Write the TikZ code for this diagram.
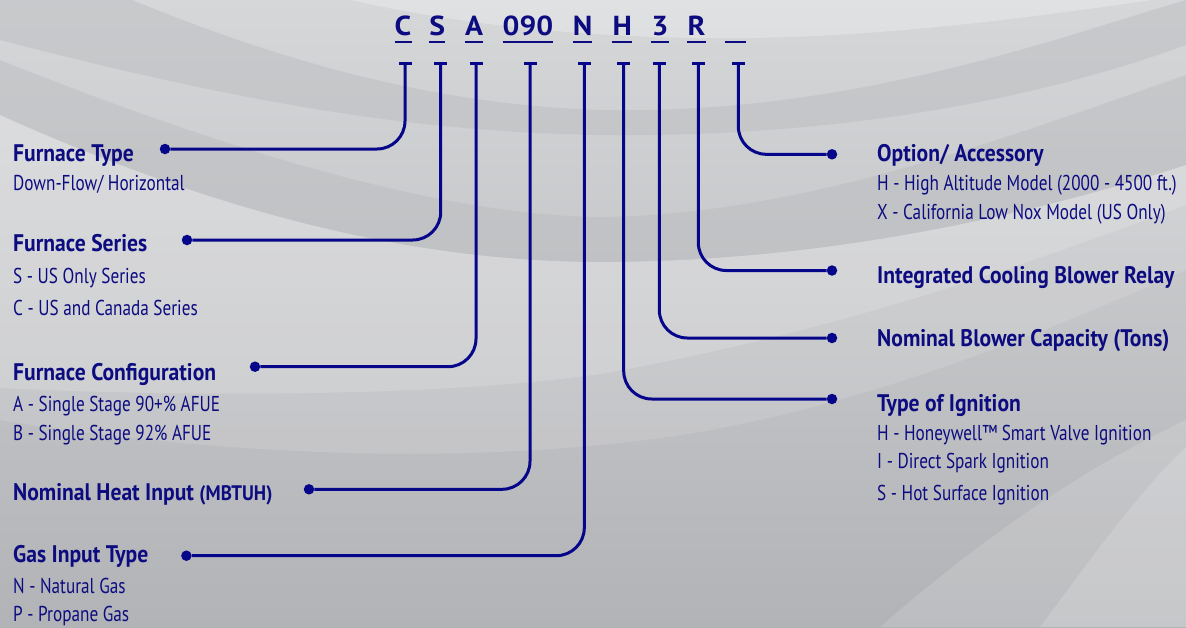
\documentclass[tikz,border=0pt]{standalone}
\usepackage{fontspec}
\setmainfont{PT Sans}[FakeStretch=0.8]
\newfontfamily\titlefont{PT Sans}[FakeStretch=0.9]
\newfontfamily\codefont{PT Sans}[FakeStretch=1.08]
\definecolor{ink}{RGB}{12,12,128}
\definecolor{wirec}{RGB}{6,6,138}
\definecolor{bgA}{RGB}{214,215,217}
\definecolor{bgB}{RGB}{178,179,182}
\definecolor{bandD}{RGB}{185,186,189}
\begin{document}
\begin{tikzpicture}[x=1pt,y=-1pt,
  lbl/.style={anchor=base west, inner sep=0pt, text=ink, font=\fontsize{21.5}{26}\selectfont},
  ttl/.style={anchor=base west, inner sep=0pt, text=ink, font=\titlefont\fontsize{24}{26}\selectfont\bfseries},
  codech/.style={anchor=base, inner sep=0pt, text=ink, font=\codefont\fontsize{27.5}{30}\selectfont\bfseries},
  wire/.style={draw=wirec, line width=3pt, rounded corners=28pt},
  dotn/.style={circle, fill=wirec, inner sep=0pt, minimum size=10.5pt},
  tbar/.style={draw=wirec, line width=3pt},
  uline/.style={draw=ink, line width=2.2pt},
  darkband/.style={fill=bandD, opacity=0.45},
  lightband/.style={fill=white, opacity=0.25}]
\useasboundingbox (0,0) rectangle (1186,627);
% background
\shade[top color=bgA, bottom color=bgB] (0,0) rectangle (1186,627);
\begin{scope}
\clip (0,0) rectangle (1186,627);
% top dark swoosh
\fill[darkband] (120,-5) .. controls (300,70) and (450,105) .. (600,110) .. controls (850,115) and (1050,40) .. (1186,0) -- (1186,45) .. controls (1050,95) and (850,138) .. (600,135) .. controls (420,132) and (250,105) .. (0,40) -- (0,-5) -- cycle;
% thin light swoosh at the very top
\fill[lightband] (330,-5) .. controls (450,25) and (600,40) .. (750,38) .. controls (900,36) and (1050,15) .. (1186,-5) -- cycle;
% second dark swoosh
\fill[darkband] (0,60) .. controls (250,160) and (450,215) .. (600,217) .. controls (800,215) and (1000,140) .. (1186,75) -- (1186,165) .. controls (1000,225) and (800,262) .. (600,262) .. controls (400,262) and (200,205) .. (0,115) -- cycle;
% broad light swoosh
\fill[lightband] (0,115) .. controls (200,205) and (400,262) .. (600,262) .. controls (800,262) and (1000,225) .. (1186,165) -- (1186,205) .. controls (1050,255) and (850,330) .. (600,374) .. controls (480,392) and (250,400) .. (0,388) -- cycle;
% fainter light swoosh below
\fill[white, opacity=0.12] (0,388) .. controls (250,400) and (480,392) .. (600,374) .. controls (850,330) and (1050,255) .. (1186,205) -- (1186,270) .. controls (1050,330) and (880,400) .. (700,432) .. controls (500,465) and (250,460) .. (0,420) -- cycle;
% bottom right light swoosh
\fill[white, opacity=0.14] (880,627) .. controls (980,540) and (1080,470) .. (1186,420) -- (1186,627) -- cycle;
\fill[white, opacity=0.16] (1040,627) .. controls (1090,560) and (1140,490) .. (1186,447) -- (1186,627) -- cycle;
\end{scope}

% code letters
\node[codech] (cC) at (403,35) {C};
\node[codech] (cS) at (437.3,35) {S};
\node[codech] (cA) at (474,35) {A};
\node[codech] (c090) at (528,35) {090};
\node[codech] (cN) at (582.5,35) {N};
\node[codech] (cH) at (622.3,35) {H};
\node[codech] (c3) at (660,35) {3};
\node[codech] (cR) at (696.5,35) {R};
\node[codech, minimum width=21pt] (cX) at (735.5,35) {\vphantom{R}};
\foreach \n in {cC,cS,cA,c090,cN,cH,c3,cR,cX}
  \draw[uline] ([yshift=-6.7pt]\n.base west) -- ([yshift=-6.7pt]\n.base east);

% T tops of the connectors
\coordinate (tC) at (405,63);
\coordinate (tS) at (440.7,63);
\coordinate (tA) at (476,63);
\coordinate (t090) at (530,63);
\coordinate (tN) at (584.3,63);
\coordinate (tH) at (623.7,63);
\coordinate (t3) at (659.3,63);
\coordinate (tR) at (698.3,63);
\coordinate (tX) at (738.3,63);
\foreach \t in {tC,tS,tA,t090,tN,tH,t3,tR,tX}
  \draw[tbar] ([xshift=-6.5pt]\t) -- ([xshift=6.5pt]\t);

% dots
\node[dotn] (dFT) at (165,149) {};
\node[dotn] (dFS) at (187,240) {};
\node[dotn] (dFC) at (255,366.7) {};
\node[dotn] (dNH) at (309,489.3) {};
\node[dotn] (dGI) at (186.4,555.7) {};
\node[dotn] (dOA) at (832,154.3) {};
\node[dotn] (dIC) at (832,270.5) {};
\node[dotn] (dNB) at (832,338) {};
\node[dotn] (dTI) at (832,399) {};

% connectors
\draw[wire] (tC) |- (dFT);
\draw[wire] (tS) |- (dFS);
\draw[wire] (tA) |- (dFC);
\draw[wire] (t090) |- (dNH);
\draw[wire] (tN) |- (dGI);
\draw[wire] (tX) |- (dOA);
\draw[wire] (tR) |- (dIC);
\draw[wire] (t3) |- (dNB);
\draw[wire] (tH) |- (dTI);

% left texts
\node[ttl] (hFT) at (13,161.7) {Furnace Type};
\node[lbl] (sFT) at (13,190.7) {Down-Flow/ Horizontal};
\node[ttl] (hFS) at (13,251.7) {Furnace Series};
\node[lbl] (sFS1) at (13,283.3) {S - US Only Series};
\node[lbl] (sFS2) at (13,315) {C - US and Canada Series};
\node[ttl] (hFC) at (13,380) {Furnace Configuration};
\node[lbl] (sFC1) at (13,411.7) {A - Single Stage 90+\% AFUE};
\node[lbl] (sFC2) at (13,440) {B - Single Stage 92\% AFUE};
\node[ttl] (hNH) at (13,500.7) {Nominal Heat Input {\fontsize{21}{22}\selectfont(MBTUH)}};
\node[ttl] (hGI) at (13,562.7) {Gas Input Type};
\node[lbl] (sGI1) at (13,593.3) {N - Natural Gas};
\node[lbl] (sGI2) at (13,621.7) {P - Propane Gas};

% right texts
\node[ttl] (hOA) at (877,161.7) {Option/ Accessory};
\node[lbl] (sOA1) at (877,190.7) {H - High Altitude Model (2000 - 4500 ft.)};
\node[lbl] (sOA2) at (877,219.5) {X - California Low Nox Model (US Only)};
\node[ttl] (hIC) at (877,283.3) {Integrated Cooling Blower Relay};
\node[ttl] (hNB) at (877,346.5) {Nominal Blower Capacity (Tons)};
\node[ttl] (hTI) at (877,411.7) {Type of Ignition};
\node[lbl] (sTI1) at (877,440) {H - Honeywell™ Smart Valve Ignition};
\node[lbl] (sTI2) at (877,468.3) {I - Direct Spark Ignition};
\node[lbl] (sTI3) at (877,500) {S - Hot Surface Ignition};
\end{tikzpicture}
\end{document}
